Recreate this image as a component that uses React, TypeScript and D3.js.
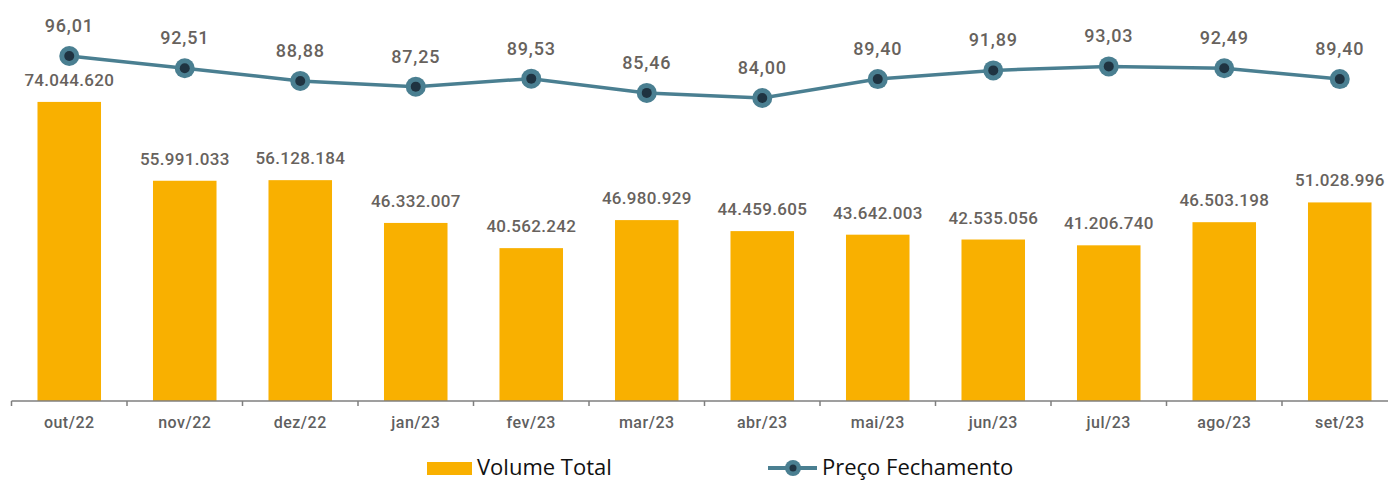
import React from "react"
import * as d3 from "d3"

const months = ["out/22", "nov/22", "dez/22", "jan/23", "fev/23", "mar/23", "abr/23", "mai/23", "jun/23", "jul/23", "ago/23", "set/23"]
const volume = [74044620, 55991033, 56128184, 46332007, 40562242, 46980929, 44459605, 43642003, 42535056, 41206740, 46503198, 51028996]
const price = [96.01, 92.51, 88.88, 87.25, 89.53, 85.46, 84.0, 89.4, 91.89, 93.03, 92.49, 89.4]

const W = 1388
const H = 480
const baseY = 401
const left = 11.5
const band = 115.5

const teal = "#4a7f91"
const dark = "#1f3341"
const labelColor = "#67625d"

const fmtVol = (v: number) => d3.format(",")(v).replace(/,/g, ".")
const fmtPrice = (v: number) => v.toFixed(2).replace(".", ",")

const App = () => {
    // the last band runs past the right edge, as in the original
    const x = d3.scaleBand().domain(months).range([left, left + band * months.length]).paddingInner(0.45).paddingOuter(0.225)
    const yVol = d3.scaleLinear().domain([5.56e6, 80e6]).range([baseY, 75.9])
    const yPrice = d3.scaleLinear().domain([80, 100]).range([112, 42])
    const cx = (m: string) => (x(m) as number) + x.bandwidth() / 2

    const line = d3.line<number>()
        .x((_, i) => cx(months[i]))
        .y(d => yPrice(d))

    const font = "Roboto, 'DejaVu Sans', sans-serif"

    return (
        <svg width={W} height={H} style={{position: "absolute", left: 0, top: 0}}>
            <rect width={W} height={H} fill="#fff"/>
            {months.map((m, i) => (
                <g key={m}>
                    <rect x={x(m)} y={yVol(volume[i])} width={x.bandwidth()} height={baseY - yVol(volume[i])} fill="#f9b000"/>
                    <text x={cx(m)} y={yVol(volume[i]) - 16} textAnchor="middle" fontFamily={font} fontSize={17}
                          fontWeight={500} letterSpacing={0.3} fill={labelColor}>{fmtVol(volume[i])}</text>
                    <text x={cx(m)} y={428} textAnchor="middle" fontFamily={font} fontSize={16}
                          fontWeight={500} letterSpacing={0.5} fill="#5f5f5f">{m}</text>
                </g>
            ))}
            <line x1={left} x2={W} y1={baseY} y2={baseY} stroke="#7f7f7f" strokeWidth={1.5}/>
            {d3.range(months.length + 1).map(i => (
                <line key={i} x1={left + i * band} x2={left + i * band} y1={baseY} y2={baseY + 5} stroke="#7f7f7f" strokeWidth={1.5}/>
            ))}
            <path d={line(price) || ""} fill="none" stroke={teal} strokeWidth={3.5}/>
            {months.map((m, i) => (
                <g key={"p" + m}>
                    <circle cx={cx(m)} cy={yPrice(price[i])} r={10} fill={teal}/>
                    <circle cx={cx(m)} cy={yPrice(price[i])} r={5} fill={dark}/>
                    <text x={cx(m)} y={yPrice(price[i]) - 24} textAnchor="middle" fontFamily={font} fontSize={18}
                          fontWeight={500} letterSpacing={0.8} fill={labelColor}>{fmtPrice(price[i])}</text>
                </g>
            ))}
            <g fontFamily="'Open Sans', Lato, sans-serif" fontSize={22} fill="#111">
                <rect x={427} y={462} width={45} height={13} fill="#f9b000"/>
                <text x={477} y={475}>Volume Total</text>
                <line x1={768} x2={817} y1={468} y2={468} stroke={teal} strokeWidth={4}/>
                <circle cx={793} cy={468} r={8} fill={teal}/>
                <circle cx={793} cy={468} r={3.5} fill={dark}/>
                <text x={822} y={475}>Preço Fechamento</text>
            </g>
        </svg>
    )
}

export default App
